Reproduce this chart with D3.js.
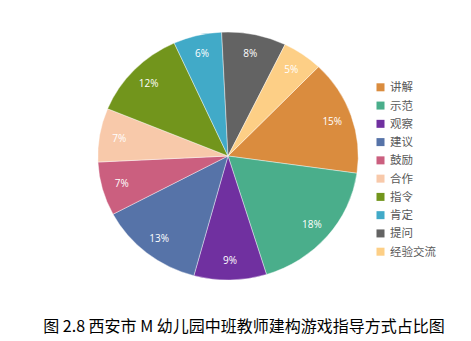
<!DOCTYPE html>
<html><head><meta charset="utf-8">
<script src="https://cdn.jsdelivr.net/npm/d3@7"></script>
<style>body{margin:0;background:#fff}</style>
</head><body>
<svg id="c" width="471" height="341"></svg>
<script>
const categories = ["讲解","示范","观察","建议","鼓励","合作","指令","肯定","提问","经验交流"];
const values = [15,18,9,13,7,7,12,6,8,5];
const labels = ["15%","18%","9%","13%","7%","7%","12%","6%","8%","5%"];
const colors = ["#DA8C3E","#4AAE8B","#7030A0","#5673A8","#CB5F7F","#F8C9AA","#72951C","#41AAC8","#636363","#FDCF86"];
const title = "图 2.8 西安市 M 幼儿园中班教师建构游戏指导方式占比图";

const svg = d3.select("#c");
const cx = 228, cy = 156, r = 124, sx = 1.05;
const start = 44 * Math.PI / 180;
const pie = d3.pie().sort(null).startAngle(start).endAngle(start + 2*Math.PI);
const arcs = pie(values);
const arc = d3.arc().innerRadius(0).outerRadius(r);
const labelArc = d3.arc().innerRadius(105).outerRadius(105);

const g = svg.append("g").attr("transform", `translate(${cx},${cy}) scale(${sx},1)`);
g.selectAll("path").data(arcs).join("path")
  .attr("d", arc).attr("fill", (d,i)=>colors[i])
  .attr("stroke","#fff").attr("stroke-width",0.4);

svg.append("g").selectAll("text").data(arcs).join("text")
  .attr("x", d => cx + labelArc.centroid(d)[0]*sx)
  .attr("y", d => cy + labelArc.centroid(d)[1])
  .attr("dy","0.35em").attr("text-anchor","middle")
  .attr("fill","#fff").attr("font-family","'Open Sans','DejaVu Sans',sans-serif").attr("font-size",10)
  .text((d,i)=>labels[i]);

const ly = d3.scalePoint().domain(categories).range([87.3, 251.7]);
const leg = svg.append("g");
leg.selectAll("rect").data(categories).join("rect")
  .attr("x",376.5).attr("y",d=>ly(d)-4).attr("width",8).attr("height",8)
  .attr("fill",(d,i)=>colors[i]);
leg.selectAll("text").data(categories).join("text")
  .attr("x",390).attr("y",d=>ly(d)).attr("dy","0.35em")
  .attr("fill","#595959").attr("font-family","'Noto Sans CJK SC',sans-serif").attr("font-size",11.5)
  .text(d=>d);

svg.append("text").attr("x",244).attr("y",326).attr("dy","0.35em").attr("text-anchor","middle")
  .attr("font-family","'Noto Sans CJK SC',sans-serif").attr("font-size",16).attr("fill","#000")
  .text(title);
</script>
</body></html>
